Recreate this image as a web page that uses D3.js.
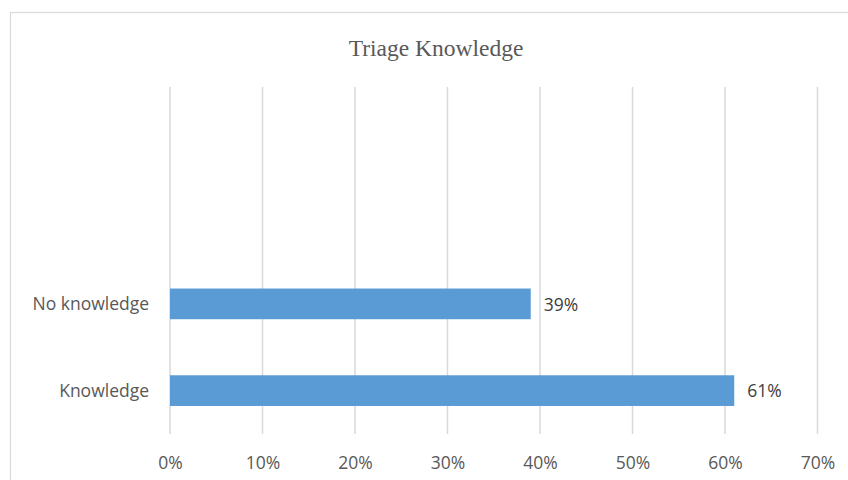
<!DOCTYPE html>
<html>
<head>
<meta charset="utf-8">
<script src="https://cdn.jsdelivr.net/npm/d3@7"></script>
<style>
  html, body { margin: 0; padding: 0; background: #fff; }
  svg { display: block; }
</style>
</head>
<body>
<svg id="chart" width="848" height="480"></svg>
<script>
// Category rows, listed top to bottom (two empty rows above the bars)
const categories = ["", " ", "No knowledge", "Knowledge"];
const values = [null, null, 39, 61];
const tickValues = [0, 10, 20, 30, 40, 50, 60, 70];
const tickLabels = ["0%", "10%", "20%", "30%", "40%", "50%", "60%", "70%"];
const title = "Triage Knowledge";

const svg = d3.select("#chart");
const W = 848, H = 480;
const plot = { left: 170, right: 817.5, top: 87, bottom: 434 };
const textColor = "#595959";
const gridColor = "#D9D9D9";
const barColor = "#5B9BD5";
const sansFont = "'Open Sans', 'Noto Sans', sans-serif";
const labelSize = "17.5px";

// Chart frame
svg.append("rect")
  .attr("x", 10.5).attr("y", 12.5)
  .attr("width", W).attr("height", H)
  .attr("fill", "#fff")
  .attr("stroke", gridColor).attr("stroke-width", 1.2);

const x = d3.scaleLinear().domain([0, 70]).range([plot.left, plot.right]);
const y = d3.scaleBand().domain(categories).range([plot.top, plot.bottom]).paddingInner(0.646).paddingOuter(0.323);

// Vertical gridlines
svg.append("g")
  .selectAll("line")
  .data(tickValues)
  .join("line")
  .attr("x1", d => x(d)).attr("x2", d => x(d))
  .attr("y1", plot.top).attr("y2", plot.bottom)
  .attr("stroke", gridColor).attr("stroke-width", 1.5);

// X axis tick labels
const xAxis = d3.axisBottom(x)
  .tickValues(tickValues)
  .tickFormat((d, i) => tickLabels[i])
  .tickSize(0).tickPadding(0);
const gx = svg.append("g").attr("transform", `translate(0, 469)`).call(xAxis);
gx.select(".domain").remove();
gx.selectAll("text")
  .attr("y", 0)
  .attr("dy", 0)
  .attr("fill", textColor)
  .style("font-family", sansFont)
  .style("font-size", labelSize);

// Y axis category labels
const yAxis = d3.axisLeft(y).tickSize(0).tickPadding(21);
const gy = svg.append("g").attr("transform", `translate(${plot.left}, 0)`).call(yAxis);
gy.select(".domain").remove();
gy.selectAll("text")
  .attr("dy", "0.36em")
  .attr("fill", textColor)
  .style("font-family", sansFont)
  .style("font-size", labelSize);

const rows = categories.map((c, i) => ({ c, v: values[i] })).filter(d => d.v != null);

// Bars
svg.append("g")
  .selectAll("rect")
  .data(rows)
  .join("rect")
  .attr("x", x(0))
  .attr("y", d => y(d.c))
  .attr("width", d => x(d.v) - x(0))
  .attr("height", y.bandwidth())
  .attr("fill", barColor);

// Value labels
svg.append("g")
  .selectAll("text")
  .data(rows)
  .join("text")
  .attr("x", d => x(d.v) + 13)
  .attr("y", d => y(d.c) + y.bandwidth() / 2)
  .attr("dy", "0.38em")
  .attr("fill", "#404040")
  .style("font-family", sansFont)
  .style("font-size", labelSize)
  .text(d => d.v + "%");

// Title
svg.append("text")
  .attr("x", 436).attr("y", 55.5)
  .attr("text-anchor", "middle")
  .attr("fill", textColor)
  .style("font-family", "'Liberation Serif', 'Times New Roman', serif")
  .style("font-size", "23.5px")
  .text(title);
</script>
</body>
</html>
